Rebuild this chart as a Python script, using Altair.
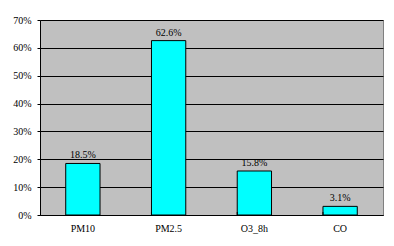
import altair as alt
import pandas as pd

categories = ["PM10", "PM2.5", "O3_8h", "CO"]
values = [0.185, 0.626, 0.158, 0.031]
labels = ["18.5%", "62.6%", "15.8%", "3.1%"]
yticks = [0, 0.1, 0.2, 0.3, 0.4, 0.5, 0.6, 0.7]

df = pd.DataFrame({"cat": categories, "val": values, "lab": labels})

W, H = 343, 195
font = "Liberation Serif"

x = alt.X("cat:N", sort=categories, title=None,
          scale=alt.Scale(paddingInner=0.6, paddingOuter=0.3),
          axis=alt.Axis(labelAngle=0, labelFont=font, labelFontSize=10, labelColor="black",
                        domainColor="black", ticks=False, labelPadding=8, labelOverlap=False))
y = alt.Y("val:Q", title=None,
          scale=alt.Scale(domain=[0, 0.7], nice=False),
          axis=alt.Axis(format=".0%", values=yticks, labelFont=font, labelOverlap=False,
                        labelFontSize=10, labelColor="black", domainColor="black",
                        tickColor="black", tickSize=3, labelPadding=6,
                        grid=True, gridColor="black", gridWidth=1, gridOpacity=1))

base = alt.Chart(df).encode(x=x, y=y)
bars = base.mark_bar(color="#00FFFF", stroke="black", strokeWidth=1)
text = base.mark_text(dy=-3, font=font, fontSize=10, color="black", baseline="bottom").encode(text="lab:N")
ticks = alt.Chart(df).mark_rule(color="black", strokeWidth=1).encode(
    x=alt.X("cat:N", sort=categories, bandPosition=0),
    y=alt.value(H), y2=alt.value(H - 3)).transform_filter(alt.datum.cat != categories[0])

chart = (bars + text + ticks).properties(
    width=W, height=H,
    autosize=alt.AutoSizeParams(type="none"),
    padding={"left": 40, "top": 20, "right": 11, "bottom": 31},
    background="white",
).configure_view(fill="#C0C0C0", stroke="#808080", strokeWidth=1)

chart.save("out.html", embed_options={"renderer": "svg", "actions": False})
